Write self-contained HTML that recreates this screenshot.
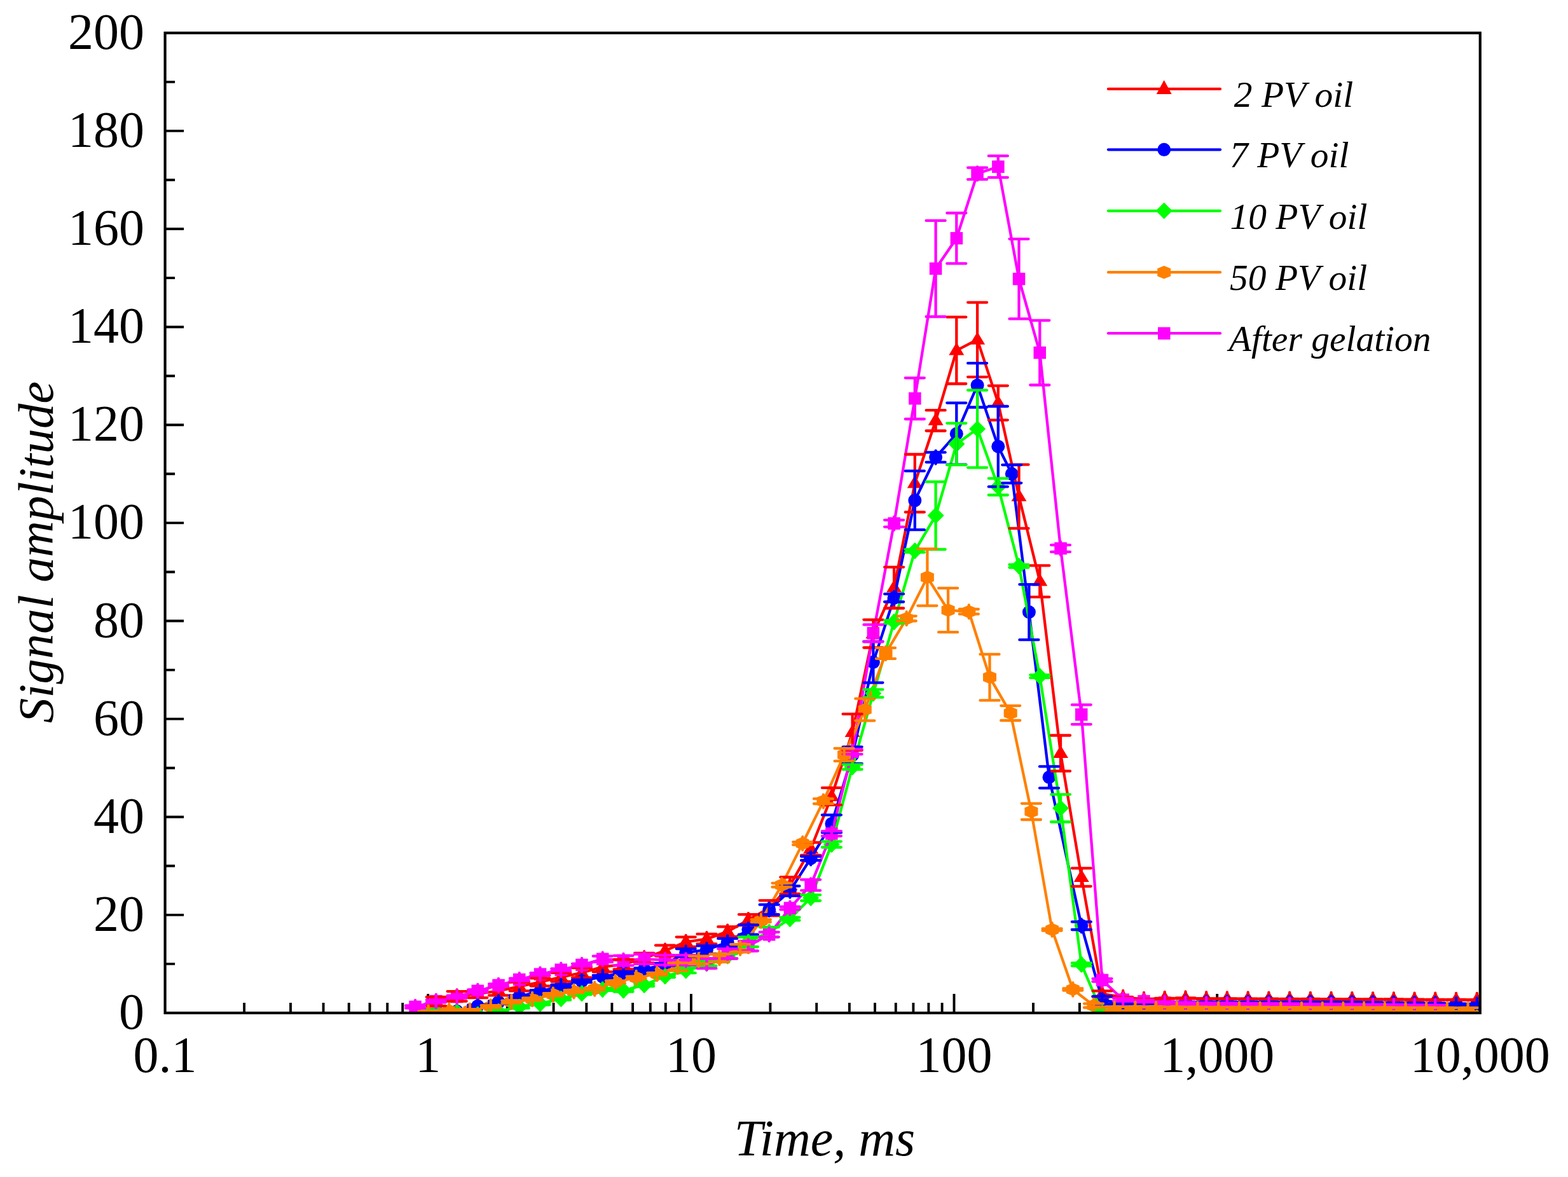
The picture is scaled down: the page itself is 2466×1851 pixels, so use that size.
<!DOCTYPE html>
<html><head><meta charset="utf-8"><title>Signal amplitude vs Time</title>
<style>
html,body{margin:0;padding:0;background:#fff;}
svg{display:block;}
.num{font-family:"Liberation Serif","Times New Roman",serif;font-size:80px;fill:#000;}
.ttl{font-family:"Liberation Serif","Times New Roman",serif;font-style:italic;font-size:80px;fill:#000;}
.leg{font-family:"Liberation Serif","Times New Roman",serif;font-style:italic;font-size:57.5px;fill:#000;}
</style></head>
<body>
<svg width="2466" height="1851" viewBox="0 0 2466 1851">
<rect width="2466" height="1851" fill="#fff"/>
<defs><clipPath id="pa"><rect x="259.6" y="51.8" width="2068.2" height="1541.2"/></clipPath></defs>
<path d="M259.6,1515.9h15.5 M259.6,1438.9h29.5 M259.6,1361.8h15.5 M259.6,1284.8h29.5 M259.6,1207.7h15.5 M259.6,1130.6h29.5 M259.6,1053.6h15.5 M259.6,976.5h29.5 M259.6,899.5h15.5 M259.6,822.4h29.5 M259.6,745.3h15.5 M259.6,668.3h29.5 M259.6,591.2h15.5 M259.6,514.2h29.5 M259.6,437.1h15.5 M259.6,360h29.5 M259.6,283h15.5 M259.6,205.9h29.5 M259.6,128.9h15.5 M384.1,1593v-16 M457,1593v-16 M508.6,1593v-16 M548.7,1593v-16 M581.5,1593v-16 M609.2,1593v-16 M633.2,1593v-16 M654.3,1593v-16 M673.2,1593v-30 M797.8,1593v-16 M870.6,1593v-16 M922.3,1593v-16 M962.4,1593v-16 M995.1,1593v-16 M1022.8,1593v-16 M1046.8,1593v-16 M1068,1593v-16 M1086.9,1593v-30 M1211.4,1593v-16 M1284.2,1593v-16 M1335.9,1593v-16 M1376,1593v-16 M1408.8,1593v-16 M1436.4,1593v-16 M1460.4,1593v-16 M1481.6,1593v-16 M1500.5,1593v-30 M1625,1593v-16 M1697.9,1593v-16 M1749.6,1593v-16 M1789.6,1593v-16 M1822.4,1593v-16 M1850.1,1593v-16 M1874.1,1593v-16 M1895.2,1593v-16 M1914.2,1593v-30 M2038.7,1593v-16 M2111.5,1593v-16 M2163.2,1593v-16 M2203.3,1593v-16 M2236,1593v-16 M2263.7,1593v-16 M2287.7,1593v-16 M2308.9,1593v-16" stroke="#000" stroke-width="3.9" fill="none"/>
<g clip-path="url(#pa)">
<path d="M685.8,1574.9 L718.6,1566.8 L751.3,1562.9 L784,1558.3 L816.8,1551.4 L849.5,1544.5 L882.3,1536.7 L915,1529.8 L947.7,1520.6 L980.5,1516.7 L1013.2,1506.7 L1046,1495.1 L1078.7,1481.3 L1111.4,1476.6 L1144.2,1465.1 L1176.9,1446.6 L1209.7,1428.1 L1242.4,1392.6 L1275.1,1334.8 L1307.9,1252.4 L1340.6,1151.4 L1373.4,996.6 L1406.1,924.1 L1438.8,760 L1471.6,661.3 L1504.3,551.1 L1537.1,534.2 L1569.8,633.6 L1602.5,780.8 L1635.3,914.1 L1668,1184.6 L1700.8,1379.5 L1733.5,1562.9 L1766.2,1568.3 L1799,1571.4 L1831.7,1570.3 L1864.5,1569.9 L1897.2,1570.7 L1929.9,1570.8 L1962.7,1570.9 L1995.4,1571.1 L2028.2,1571.2 L2060.9,1571.4 L2093.6,1571.5 L2126.4,1571.6 L2159.1,1571.8 L2191.9,1571.9 L2224.6,1572.1 L2257.3,1572.2 L2290.1,1572.4 L2322.8,1572.5" fill="none" stroke="#ff0000" stroke-width="4.3" stroke-linejoin="round"/>
<polygon points="685.8,1562.4 697.8,1582.4 673.8,1582.4" fill="#ff0000"/>
<polygon points="718.6,1554.3 730.6,1574.3 706.6,1574.3" fill="#ff0000"/>
<polygon points="751.3,1550.4 763.3,1570.4 739.3,1570.4" fill="#ff0000"/>
<polygon points="784,1545.8 796,1565.8 772,1565.8" fill="#ff0000"/>
<polygon points="816.8,1538.9 828.8,1558.9 804.8,1558.9" fill="#ff0000"/>
<polygon points="849.5,1532 861.5,1552 837.5,1552" fill="#ff0000"/>
<polygon points="882.3,1524.2 894.3,1544.2 870.3,1544.2" fill="#ff0000"/>
<polygon points="915,1517.3 927,1537.3 903,1537.3" fill="#ff0000"/>
<polygon points="947.7,1508.1 959.7,1528.1 935.7,1528.1" fill="#ff0000"/>
<polygon points="980.5,1504.2 992.5,1524.2 968.5,1524.2" fill="#ff0000"/>
<polygon points="1013.2,1494.2 1025.2,1514.2 1001.2,1514.2" fill="#ff0000"/>
<polygon points="1046,1482.6 1058,1502.6 1034,1502.6" fill="#ff0000"/>
<polygon points="1078.7,1468.8 1090.7,1488.8 1066.7,1488.8" fill="#ff0000"/>
<polygon points="1111.4,1464.1 1123.4,1484.1 1099.4,1484.1" fill="#ff0000"/>
<polygon points="1144.2,1452.6 1156.2,1472.6 1132.2,1472.6" fill="#ff0000"/>
<polygon points="1176.9,1434.1 1188.9,1454.1 1164.9,1454.1" fill="#ff0000"/>
<polygon points="1209.7,1415.6 1221.7,1435.6 1197.7,1435.6" fill="#ff0000"/>
<polygon points="1242.4,1380.1 1254.4,1400.1 1230.4,1400.1" fill="#ff0000"/>
<polygon points="1275.1,1322.3 1287.1,1342.3 1263.1,1342.3" fill="#ff0000"/>
<polygon points="1307.9,1239.9 1319.9,1259.9 1295.9,1259.9" fill="#ff0000"/>
<polygon points="1340.6,1138.9 1352.6,1158.9 1328.6,1158.9" fill="#ff0000"/>
<polygon points="1373.4,984.1 1385.4,1004.1 1361.4,1004.1" fill="#ff0000"/>
<polygon points="1406.1,911.6 1418.1,931.6 1394.1,931.6" fill="#ff0000"/>
<polygon points="1438.8,747.5 1450.8,767.5 1426.8,767.5" fill="#ff0000"/>
<polygon points="1471.6,648.8 1483.6,668.8 1459.6,668.8" fill="#ff0000"/>
<polygon points="1504.3,538.6 1516.3,558.6 1492.3,558.6" fill="#ff0000"/>
<polygon points="1537.1,521.7 1549.1,541.7 1525.1,541.7" fill="#ff0000"/>
<polygon points="1569.8,621.1 1581.8,641.1 1557.8,641.1" fill="#ff0000"/>
<polygon points="1602.5,768.3 1614.5,788.3 1590.5,788.3" fill="#ff0000"/>
<polygon points="1635.3,901.6 1647.3,921.6 1623.3,921.6" fill="#ff0000"/>
<polygon points="1668,1172.1 1680,1192.1 1656,1192.1" fill="#ff0000"/>
<polygon points="1700.8,1367 1712.8,1387 1688.8,1387" fill="#ff0000"/>
<polygon points="1733.5,1550.4 1745.5,1570.4 1721.5,1570.4" fill="#ff0000"/>
<polygon points="1766.2,1555.8 1778.2,1575.8 1754.2,1575.8" fill="#ff0000"/>
<polygon points="1799,1558.9 1811,1578.9 1787,1578.9" fill="#ff0000"/>
<polygon points="1831.7,1557.8 1843.7,1577.8 1819.7,1577.8" fill="#ff0000"/>
<polygon points="1864.5,1557.4 1876.5,1577.4 1852.5,1577.4" fill="#ff0000"/>
<polygon points="1897.2,1558.2 1909.2,1578.2 1885.2,1578.2" fill="#ff0000"/>
<polygon points="1929.9,1558.3 1941.9,1578.3 1917.9,1578.3" fill="#ff0000"/>
<polygon points="1962.7,1558.4 1974.7,1578.4 1950.7,1578.4" fill="#ff0000"/>
<polygon points="1995.4,1558.6 2007.4,1578.6 1983.4,1578.6" fill="#ff0000"/>
<polygon points="2028.2,1558.7 2040.2,1578.7 2016.2,1578.7" fill="#ff0000"/>
<polygon points="2060.9,1558.9 2072.9,1578.9 2048.9,1578.9" fill="#ff0000"/>
<polygon points="2093.6,1559 2105.6,1579 2081.6,1579" fill="#ff0000"/>
<polygon points="2126.4,1559.1 2138.4,1579.1 2114.4,1579.1" fill="#ff0000"/>
<polygon points="2159.1,1559.3 2171.1,1579.3 2147.1,1579.3" fill="#ff0000"/>
<polygon points="2191.9,1559.4 2203.9,1579.4 2179.9,1579.4" fill="#ff0000"/>
<polygon points="2224.6,1559.6 2236.6,1579.6 2212.6,1579.6" fill="#ff0000"/>
<polygon points="2257.3,1559.7 2269.3,1579.7 2245.3,1579.7" fill="#ff0000"/>
<polygon points="2290.1,1559.9 2302.1,1579.9 2278.1,1579.9" fill="#ff0000"/>
<polygon points="2322.8,1560 2334.8,1580 2310.8,1580" fill="#ff0000"/>
<path d="M685.8,1589.9 L718.6,1590.3 L751.3,1582.2 L784,1576 L816.8,1567.2 L849.5,1559.1 L882.3,1550.6 L915,1542.9 L947.7,1536 L980.5,1529.8 L1013.2,1524.4 L1046,1516.7 L1078.7,1498.2 L1111.4,1493.6 L1144.2,1482 L1176.9,1462 L1209.7,1430.4 L1242.4,1401.1 L1275.1,1349.9 L1307.9,1295.5 L1340.6,1187.7 L1373.4,1041.3 L1406.1,940.3 L1438.8,787 L1471.6,719.1 L1504.3,682.2 L1537.1,605.9 L1569.8,702.2 L1591.3,745.3 L1618.4,962.6 L1650,1222.3 L1700.8,1455.8 L1733.5,1573 L1766.2,1577.6 L1799,1577.2 L1831.7,1576.8 L1864.5,1576.8 L1897.2,1576.8 L1929.9,1576.8 L1962.7,1576.8 L1995.4,1576.8 L2028.2,1576.8 L2060.9,1576.8 L2093.6,1576.8 L2126.4,1577.2 L2159.1,1577.6 L2191.9,1578 L2224.6,1578.4 L2257.3,1578.7 L2290.1,1579.5 L2322.8,1579.9" fill="none" stroke="#0000ff" stroke-width="4.3" stroke-linejoin="round"/>
<circle cx="685.8" cy="1589.9" r="10.5" fill="#0000ff"/>
<circle cx="718.6" cy="1590.3" r="10.5" fill="#0000ff"/>
<circle cx="751.3" cy="1582.2" r="10.5" fill="#0000ff"/>
<circle cx="784" cy="1576" r="10.5" fill="#0000ff"/>
<circle cx="816.8" cy="1567.2" r="10.5" fill="#0000ff"/>
<circle cx="849.5" cy="1559.1" r="10.5" fill="#0000ff"/>
<circle cx="882.3" cy="1550.6" r="10.5" fill="#0000ff"/>
<circle cx="915" cy="1542.9" r="10.5" fill="#0000ff"/>
<circle cx="947.7" cy="1536" r="10.5" fill="#0000ff"/>
<circle cx="980.5" cy="1529.8" r="10.5" fill="#0000ff"/>
<circle cx="1013.2" cy="1524.4" r="10.5" fill="#0000ff"/>
<circle cx="1046" cy="1516.7" r="10.5" fill="#0000ff"/>
<circle cx="1078.7" cy="1498.2" r="10.5" fill="#0000ff"/>
<circle cx="1111.4" cy="1493.6" r="10.5" fill="#0000ff"/>
<circle cx="1144.2" cy="1482" r="10.5" fill="#0000ff"/>
<circle cx="1176.9" cy="1462" r="10.5" fill="#0000ff"/>
<circle cx="1209.7" cy="1430.4" r="10.5" fill="#0000ff"/>
<circle cx="1242.4" cy="1401.1" r="10.5" fill="#0000ff"/>
<circle cx="1275.1" cy="1349.9" r="10.5" fill="#0000ff"/>
<circle cx="1307.9" cy="1295.5" r="10.5" fill="#0000ff"/>
<circle cx="1340.6" cy="1187.7" r="10.5" fill="#0000ff"/>
<circle cx="1373.4" cy="1041.3" r="10.5" fill="#0000ff"/>
<circle cx="1406.1" cy="940.3" r="10.5" fill="#0000ff"/>
<circle cx="1438.8" cy="787" r="10.5" fill="#0000ff"/>
<circle cx="1471.6" cy="719.1" r="10.5" fill="#0000ff"/>
<circle cx="1504.3" cy="682.2" r="10.5" fill="#0000ff"/>
<circle cx="1537.1" cy="605.9" r="10.5" fill="#0000ff"/>
<circle cx="1569.8" cy="702.2" r="10.5" fill="#0000ff"/>
<circle cx="1591.3" cy="745.3" r="10.5" fill="#0000ff"/>
<circle cx="1618.4" cy="962.6" r="10.5" fill="#0000ff"/>
<circle cx="1650" cy="1222.3" r="10.5" fill="#0000ff"/>
<circle cx="1700.8" cy="1455.8" r="10.5" fill="#0000ff"/>
<circle cx="1733.5" cy="1573" r="10.5" fill="#0000ff"/>
<circle cx="1766.2" cy="1577.6" r="10.5" fill="#0000ff"/>
<circle cx="1799" cy="1577.2" r="10.5" fill="#0000ff"/>
<circle cx="1831.7" cy="1576.8" r="10.5" fill="#0000ff"/>
<circle cx="1864.5" cy="1576.8" r="10.5" fill="#0000ff"/>
<circle cx="1897.2" cy="1576.8" r="10.5" fill="#0000ff"/>
<circle cx="1929.9" cy="1576.8" r="10.5" fill="#0000ff"/>
<circle cx="1962.7" cy="1576.8" r="10.5" fill="#0000ff"/>
<circle cx="1995.4" cy="1576.8" r="10.5" fill="#0000ff"/>
<circle cx="2028.2" cy="1576.8" r="10.5" fill="#0000ff"/>
<circle cx="2060.9" cy="1576.8" r="10.5" fill="#0000ff"/>
<circle cx="2093.6" cy="1576.8" r="10.5" fill="#0000ff"/>
<circle cx="2126.4" cy="1577.2" r="10.5" fill="#0000ff"/>
<circle cx="2159.1" cy="1577.6" r="10.5" fill="#0000ff"/>
<circle cx="2191.9" cy="1578" r="10.5" fill="#0000ff"/>
<circle cx="2224.6" cy="1578.4" r="10.5" fill="#0000ff"/>
<circle cx="2257.3" cy="1578.7" r="10.5" fill="#0000ff"/>
<circle cx="2290.1" cy="1579.5" r="10.5" fill="#0000ff"/>
<circle cx="2322.8" cy="1579.9" r="10.5" fill="#0000ff"/>
<path d="M685.8,1589.9 L718.6,1591.5 L751.3,1595.3 L784,1590.7 L816.8,1583.4 L849.5,1578.4 L882.3,1570.7 L915,1562.2 L947.7,1556 L980.5,1557.6 L1013.2,1549.1 L1046,1535.2 L1078.7,1526.3 L1111.4,1515.2 L1144.2,1503.6 L1176.9,1481.3 L1209.7,1465.9 L1242.4,1445 L1275.1,1411.9 L1307.9,1327.9 L1340.6,1206.2 L1373.4,1090.6 L1406.1,978.1 L1438.8,866.3 L1471.6,810.8 L1504.3,698.3 L1537.1,674.4 L1569.8,765.4 L1602.5,890.2 L1635.3,1063.6 L1668,1270.9 L1700.8,1516.7 L1733.5,1593 L1766.2,1600.7 L1799,1600.7 L1831.7,1600.7 L1864.5,1600.7 L1897.2,1600.7 L1929.9,1600.7 L1962.7,1600.7 L1995.4,1600.7 L2028.2,1600.7 L2060.9,1600.7 L2093.6,1600.7 L2126.4,1600.7 L2159.1,1600.7 L2191.9,1600.7 L2224.6,1600.7 L2257.3,1600.7 L2290.1,1600.7 L2322.8,1600.7" fill="none" stroke="#00ff00" stroke-width="4.3" stroke-linejoin="round"/>
<polygon points="685.8,1576.9 698.8,1589.9 685.8,1602.9 672.8,1589.9" fill="#00ff00"/>
<polygon points="718.6,1578.5 731.6,1591.5 718.6,1604.5 705.6,1591.5" fill="#00ff00"/>
<polygon points="751.3,1582.3 764.3,1595.3 751.3,1608.3 738.3,1595.3" fill="#00ff00"/>
<polygon points="784,1577.7 797,1590.7 784,1603.7 771,1590.7" fill="#00ff00"/>
<polygon points="816.8,1570.4 829.8,1583.4 816.8,1596.4 803.8,1583.4" fill="#00ff00"/>
<polygon points="849.5,1565.4 862.5,1578.4 849.5,1591.4 836.5,1578.4" fill="#00ff00"/>
<polygon points="882.3,1557.7 895.3,1570.7 882.3,1583.7 869.3,1570.7" fill="#00ff00"/>
<polygon points="915,1549.2 928,1562.2 915,1575.2 902,1562.2" fill="#00ff00"/>
<polygon points="947.7,1543 960.7,1556 947.7,1569 934.7,1556" fill="#00ff00"/>
<polygon points="980.5,1544.6 993.5,1557.6 980.5,1570.6 967.5,1557.6" fill="#00ff00"/>
<polygon points="1013.2,1536.1 1026.2,1549.1 1013.2,1562.1 1000.2,1549.1" fill="#00ff00"/>
<polygon points="1046,1522.2 1059,1535.2 1046,1548.2 1033,1535.2" fill="#00ff00"/>
<polygon points="1078.7,1513.3 1091.7,1526.3 1078.7,1539.3 1065.7,1526.3" fill="#00ff00"/>
<polygon points="1111.4,1502.2 1124.4,1515.2 1111.4,1528.2 1098.4,1515.2" fill="#00ff00"/>
<polygon points="1144.2,1490.6 1157.2,1503.6 1144.2,1516.6 1131.2,1503.6" fill="#00ff00"/>
<polygon points="1176.9,1468.3 1189.9,1481.3 1176.9,1494.3 1163.9,1481.3" fill="#00ff00"/>
<polygon points="1209.7,1452.9 1222.7,1465.9 1209.7,1478.9 1196.7,1465.9" fill="#00ff00"/>
<polygon points="1242.4,1432 1255.4,1445 1242.4,1458 1229.4,1445" fill="#00ff00"/>
<polygon points="1275.1,1398.9 1288.1,1411.9 1275.1,1424.9 1262.1,1411.9" fill="#00ff00"/>
<polygon points="1307.9,1314.9 1320.9,1327.9 1307.9,1340.9 1294.9,1327.9" fill="#00ff00"/>
<polygon points="1340.6,1193.2 1353.6,1206.2 1340.6,1219.2 1327.6,1206.2" fill="#00ff00"/>
<polygon points="1373.4,1077.6 1386.4,1090.6 1373.4,1103.6 1360.4,1090.6" fill="#00ff00"/>
<polygon points="1406.1,965.1 1419.1,978.1 1406.1,991.1 1393.1,978.1" fill="#00ff00"/>
<polygon points="1438.8,853.3 1451.8,866.3 1438.8,879.3 1425.8,866.3" fill="#00ff00"/>
<polygon points="1471.6,797.8 1484.6,810.8 1471.6,823.8 1458.6,810.8" fill="#00ff00"/>
<polygon points="1504.3,685.3 1517.3,698.3 1504.3,711.3 1491.3,698.3" fill="#00ff00"/>
<polygon points="1537.1,661.4 1550.1,674.4 1537.1,687.4 1524.1,674.4" fill="#00ff00"/>
<polygon points="1569.8,752.4 1582.8,765.4 1569.8,778.4 1556.8,765.4" fill="#00ff00"/>
<polygon points="1602.5,877.2 1615.5,890.2 1602.5,903.2 1589.5,890.2" fill="#00ff00"/>
<polygon points="1635.3,1050.6 1648.3,1063.6 1635.3,1076.6 1622.3,1063.6" fill="#00ff00"/>
<polygon points="1668,1257.9 1681,1270.9 1668,1283.9 1655,1270.9" fill="#00ff00"/>
<polygon points="1700.8,1503.7 1713.8,1516.7 1700.8,1529.7 1687.8,1516.7" fill="#00ff00"/>
<polygon points="1733.5,1580 1746.5,1593 1733.5,1606 1720.5,1593" fill="#00ff00"/>
<polygon points="1766.2,1587.7 1779.2,1600.7 1766.2,1613.7 1753.2,1600.7" fill="#00ff00"/>
<polygon points="1799,1587.7 1812,1600.7 1799,1613.7 1786,1600.7" fill="#00ff00"/>
<polygon points="1831.7,1587.7 1844.7,1600.7 1831.7,1613.7 1818.7,1600.7" fill="#00ff00"/>
<polygon points="1864.5,1587.7 1877.5,1600.7 1864.5,1613.7 1851.5,1600.7" fill="#00ff00"/>
<polygon points="1897.2,1587.7 1910.2,1600.7 1897.2,1613.7 1884.2,1600.7" fill="#00ff00"/>
<polygon points="1929.9,1587.7 1942.9,1600.7 1929.9,1613.7 1916.9,1600.7" fill="#00ff00"/>
<polygon points="1962.7,1587.7 1975.7,1600.7 1962.7,1613.7 1949.7,1600.7" fill="#00ff00"/>
<polygon points="1995.4,1587.7 2008.4,1600.7 1995.4,1613.7 1982.4,1600.7" fill="#00ff00"/>
<polygon points="2028.2,1587.7 2041.2,1600.7 2028.2,1613.7 2015.2,1600.7" fill="#00ff00"/>
<polygon points="2060.9,1587.7 2073.9,1600.7 2060.9,1613.7 2047.9,1600.7" fill="#00ff00"/>
<polygon points="2093.6,1587.7 2106.6,1600.7 2093.6,1613.7 2080.6,1600.7" fill="#00ff00"/>
<polygon points="2126.4,1587.7 2139.4,1600.7 2126.4,1613.7 2113.4,1600.7" fill="#00ff00"/>
<polygon points="2159.1,1587.7 2172.1,1600.7 2159.1,1613.7 2146.1,1600.7" fill="#00ff00"/>
<polygon points="2191.9,1587.7 2204.9,1600.7 2191.9,1613.7 2178.9,1600.7" fill="#00ff00"/>
<polygon points="2224.6,1587.7 2237.6,1600.7 2224.6,1613.7 2211.6,1600.7" fill="#00ff00"/>
<polygon points="2257.3,1587.7 2270.3,1600.7 2257.3,1613.7 2244.3,1600.7" fill="#00ff00"/>
<polygon points="2290.1,1587.7 2303.1,1600.7 2290.1,1613.7 2277.1,1600.7" fill="#00ff00"/>
<polygon points="2322.8,1587.7 2335.8,1600.7 2322.8,1613.7 2309.8,1600.7" fill="#00ff00"/>
<path d="M653.1,1583.4 L685.8,1574.5 L718.6,1567.6 L751.3,1558.3 L784,1549.5 L816.8,1540.6 L849.5,1532.1 L882.3,1525.2 L915,1517.5 L947.7,1508.2 L980.5,1510.5 L1013.2,1508.2 L1046,1509.8 L1078.7,1509.8 L1111.4,1515.2 L1144.2,1499.8 L1176.9,1487.8 L1209.7,1469.7 L1242.4,1428.1 L1275.1,1391.9 L1307.9,1311 L1340.6,1182.3 L1373.4,995.8 L1406.1,823.2 L1438.8,626.7 L1471.6,422.5 L1504.3,374.7 L1537.1,273 L1569.8,262.2 L1602.5,438.6 L1635.3,554.6 L1668,862.5 L1700.8,1123.7 L1733.5,1541.4 L1766.2,1572.2 L1799,1574.5 L1831.7,1576.8 L1864.5,1578 L1897.2,1578.7 L1929.9,1579.1 L1962.7,1579.4 L1995.4,1579.7 L2028.2,1580 L2060.9,1580.3 L2093.6,1580.6 L2126.4,1581 L2159.1,1581.3 L2191.9,1581.6 L2224.6,1581.9 L2257.3,1582.2" fill="none" stroke="#ff00ff" stroke-width="4.3" stroke-linejoin="round"/>
<rect x="643.3" y="1573.6" width="19.5" height="19.5" fill="#ff00ff"/>
<rect x="676.1" y="1564.8" width="19.5" height="19.5" fill="#ff00ff"/>
<rect x="708.8" y="1557.8" width="19.5" height="19.5" fill="#ff00ff"/>
<rect x="741.5" y="1548.6" width="19.5" height="19.5" fill="#ff00ff"/>
<rect x="774.3" y="1539.7" width="19.5" height="19.5" fill="#ff00ff"/>
<rect x="807" y="1530.8" width="19.5" height="19.5" fill="#ff00ff"/>
<rect x="839.8" y="1522.4" width="19.5" height="19.5" fill="#ff00ff"/>
<rect x="872.5" y="1515.4" width="19.5" height="19.5" fill="#ff00ff"/>
<rect x="905.2" y="1507.7" width="19.5" height="19.5" fill="#ff00ff"/>
<rect x="938" y="1498.5" width="19.5" height="19.5" fill="#ff00ff"/>
<rect x="970.7" y="1500.8" width="19.5" height="19.5" fill="#ff00ff"/>
<rect x="1003.5" y="1498.5" width="19.5" height="19.5" fill="#ff00ff"/>
<rect x="1036.2" y="1500" width="19.5" height="19.5" fill="#ff00ff"/>
<rect x="1069" y="1500" width="19.5" height="19.5" fill="#ff00ff"/>
<rect x="1101.7" y="1505.4" width="19.5" height="19.5" fill="#ff00ff"/>
<rect x="1134.4" y="1490" width="19.5" height="19.5" fill="#ff00ff"/>
<rect x="1167.2" y="1478.1" width="19.5" height="19.5" fill="#ff00ff"/>
<rect x="1199.9" y="1460" width="19.5" height="19.5" fill="#ff00ff"/>
<rect x="1232.7" y="1418.3" width="19.5" height="19.5" fill="#ff00ff"/>
<rect x="1265.4" y="1382.1" width="19.5" height="19.5" fill="#ff00ff"/>
<rect x="1298.1" y="1301.2" width="19.5" height="19.5" fill="#ff00ff"/>
<rect x="1330.9" y="1172.5" width="19.5" height="19.5" fill="#ff00ff"/>
<rect x="1363.6" y="986" width="19.5" height="19.5" fill="#ff00ff"/>
<rect x="1396.4" y="813.4" width="19.5" height="19.5" fill="#ff00ff"/>
<rect x="1429.1" y="616.9" width="19.5" height="19.5" fill="#ff00ff"/>
<rect x="1461.8" y="412.7" width="19.5" height="19.5" fill="#ff00ff"/>
<rect x="1494.6" y="364.9" width="19.5" height="19.5" fill="#ff00ff"/>
<rect x="1527.3" y="263.2" width="19.5" height="19.5" fill="#ff00ff"/>
<rect x="1560.1" y="252.4" width="19.5" height="19.5" fill="#ff00ff"/>
<rect x="1592.8" y="428.9" width="19.5" height="19.5" fill="#ff00ff"/>
<rect x="1625.5" y="544.9" width="19.5" height="19.5" fill="#ff00ff"/>
<rect x="1658.3" y="852.7" width="19.5" height="19.5" fill="#ff00ff"/>
<rect x="1691" y="1114" width="19.5" height="19.5" fill="#ff00ff"/>
<rect x="1723.8" y="1531.6" width="19.5" height="19.5" fill="#ff00ff"/>
<rect x="1756.5" y="1562.4" width="19.5" height="19.5" fill="#ff00ff"/>
<rect x="1789.2" y="1564.8" width="19.5" height="19.5" fill="#ff00ff"/>
<rect x="1822" y="1567.1" width="19.5" height="19.5" fill="#ff00ff"/>
<rect x="1854.7" y="1568.2" width="19.5" height="19.5" fill="#ff00ff"/>
<rect x="1887.5" y="1569" width="19.5" height="19.5" fill="#ff00ff"/>
<rect x="1920.2" y="1569.3" width="19.5" height="19.5" fill="#ff00ff"/>
<rect x="1952.9" y="1569.6" width="19.5" height="19.5" fill="#ff00ff"/>
<rect x="1985.7" y="1569.9" width="19.5" height="19.5" fill="#ff00ff"/>
<rect x="2018.4" y="1570.3" width="19.5" height="19.5" fill="#ff00ff"/>
<rect x="2051.2" y="1570.6" width="19.5" height="19.5" fill="#ff00ff"/>
<rect x="2083.9" y="1570.9" width="19.5" height="19.5" fill="#ff00ff"/>
<rect x="2116.6" y="1571.2" width="19.5" height="19.5" fill="#ff00ff"/>
<rect x="2149.4" y="1571.5" width="19.5" height="19.5" fill="#ff00ff"/>
<rect x="2182.1" y="1571.8" width="19.5" height="19.5" fill="#ff00ff"/>
<rect x="2214.8" y="1572.1" width="19.5" height="19.5" fill="#ff00ff"/>
<rect x="2247.6" y="1572.5" width="19.5" height="19.5" fill="#ff00ff"/>
<path d="M673.6,1592.2 L706.3,1589.5 L739,1589.1 L771.7,1583 L804.4,1575.7 L837.1,1571.4 L869.8,1564.1 L902.5,1559.1 L935.2,1555.2 L967.9,1544.5 L1000.6,1537.5 L1033.3,1531.7 L1066,1520.6 L1098.7,1509.8 L1131.4,1506.7 L1164.1,1491.3 L1196.8,1448.1 L1229.5,1391.9 L1262.2,1326.4 L1294.9,1260.1 L1327.6,1186.9 L1360.3,1116 L1393,1027.4 L1425.7,972.7 L1458.4,907.9 L1491.1,959.6 L1523.8,961.9 L1556.5,1065.1 L1589.2,1121.4 L1621.9,1276.3 L1654.6,1462 L1687.3,1556 L1720,1581.4 L1752.7,1586.4 L1785.4,1586.5 L1818.1,1586.6 L1850.8,1586.7 L1883.5,1586.8 L1916.2,1586.9 L1948.9,1587 L1981.6,1587.1 L2014.3,1587.2 L2047,1587.3 L2079.7,1587.4 L2112.4,1587.4 L2145.1,1587.5 L2177.8,1587.6 L2210.5,1587.7 L2243.2,1587.8 L2275.9,1587.9 L2308.6,1588" fill="none" stroke="#ff8000" stroke-width="4.3" stroke-linejoin="round"/>
<polygon points="673.6,1581.9 684.1,1586.2 684.1,1598.2 673.6,1602.5 663.1,1598.2 663.1,1586.2" fill="#ff8000"/>
<polygon points="706.3,1579.2 716.8,1583.5 716.8,1595.5 706.3,1599.8 695.8,1595.5 695.8,1583.5" fill="#ff8000"/>
<polygon points="739,1578.8 749.5,1583.1 749.5,1595.1 739,1599.4 728.5,1595.1 728.5,1583.1" fill="#ff8000"/>
<polygon points="771.7,1572.7 782.2,1577 782.2,1589 771.7,1593.3 761.2,1589 761.2,1577" fill="#ff8000"/>
<polygon points="804.4,1565.4 814.9,1569.7 814.9,1581.7 804.4,1586 793.9,1581.7 793.9,1569.7" fill="#ff8000"/>
<polygon points="837.1,1561.1 847.6,1565.4 847.6,1577.4 837.1,1581.7 826.6,1577.4 826.6,1565.4" fill="#ff8000"/>
<polygon points="869.8,1553.8 880.3,1558.1 880.3,1570.1 869.8,1574.4 859.3,1570.1 859.3,1558.1" fill="#ff8000"/>
<polygon points="902.5,1548.8 913,1553.1 913,1565.1 902.5,1569.4 892,1565.1 892,1553.1" fill="#ff8000"/>
<polygon points="935.2,1544.9 945.7,1549.2 945.7,1561.2 935.2,1565.5 924.7,1561.2 924.7,1549.2" fill="#ff8000"/>
<polygon points="967.9,1534.2 978.4,1538.5 978.4,1550.5 967.9,1554.8 957.4,1550.5 957.4,1538.5" fill="#ff8000"/>
<polygon points="1000.6,1527.2 1011.1,1531.5 1011.1,1543.5 1000.6,1547.8 990.1,1543.5 990.1,1531.5" fill="#ff8000"/>
<polygon points="1033.3,1521.4 1043.8,1525.7 1043.8,1537.7 1033.3,1542 1022.8,1537.7 1022.8,1525.7" fill="#ff8000"/>
<polygon points="1066,1510.3 1076.5,1514.6 1076.5,1526.6 1066,1530.9 1055.5,1526.6 1055.5,1514.6" fill="#ff8000"/>
<polygon points="1098.7,1499.5 1109.2,1503.8 1109.2,1515.8 1098.7,1520.1 1088.2,1515.8 1088.2,1503.8" fill="#ff8000"/>
<polygon points="1131.4,1496.4 1141.9,1500.7 1141.9,1512.7 1131.4,1517 1120.9,1512.7 1120.9,1500.7" fill="#ff8000"/>
<polygon points="1164.1,1481 1174.6,1485.3 1174.6,1497.3 1164.1,1501.6 1153.6,1497.3 1153.6,1485.3" fill="#ff8000"/>
<polygon points="1196.8,1437.8 1207.3,1442.1 1207.3,1454.1 1196.8,1458.4 1186.3,1454.1 1186.3,1442.1" fill="#ff8000"/>
<polygon points="1229.5,1381.6 1240,1385.9 1240,1397.9 1229.5,1402.2 1219,1397.9 1219,1385.9" fill="#ff8000"/>
<polygon points="1262.2,1316.1 1272.7,1320.4 1272.7,1332.4 1262.2,1336.7 1251.7,1332.4 1251.7,1320.4" fill="#ff8000"/>
<polygon points="1294.9,1249.8 1305.4,1254.1 1305.4,1266.1 1294.9,1270.4 1284.4,1266.1 1284.4,1254.1" fill="#ff8000"/>
<polygon points="1327.6,1176.6 1338.1,1180.9 1338.1,1192.9 1327.6,1197.2 1317.1,1192.9 1317.1,1180.9" fill="#ff8000"/>
<polygon points="1360.3,1105.7 1370.8,1110 1370.8,1122 1360.3,1126.3 1349.8,1122 1349.8,1110" fill="#ff8000"/>
<polygon points="1393,1017.1 1403.5,1021.4 1403.5,1033.4 1393,1037.7 1382.5,1033.4 1382.5,1021.4" fill="#ff8000"/>
<polygon points="1425.7,962.4 1436.2,966.7 1436.2,978.7 1425.7,983 1415.2,978.7 1415.2,966.7" fill="#ff8000"/>
<polygon points="1458.4,897.6 1468.9,901.9 1468.9,913.9 1458.4,918.2 1447.9,913.9 1447.9,901.9" fill="#ff8000"/>
<polygon points="1491.1,949.3 1501.6,953.6 1501.6,965.6 1491.1,969.9 1480.6,965.6 1480.6,953.6" fill="#ff8000"/>
<polygon points="1523.8,951.6 1534.3,955.9 1534.3,967.9 1523.8,972.2 1513.3,967.9 1513.3,955.9" fill="#ff8000"/>
<polygon points="1556.5,1054.8 1567,1059.1 1567,1071.1 1556.5,1075.4 1546,1071.1 1546,1059.1" fill="#ff8000"/>
<polygon points="1589.2,1111.1 1599.7,1115.4 1599.7,1127.4 1589.2,1131.7 1578.7,1127.4 1578.7,1115.4" fill="#ff8000"/>
<polygon points="1621.9,1266 1632.4,1270.3 1632.4,1282.3 1621.9,1286.6 1611.4,1282.3 1611.4,1270.3" fill="#ff8000"/>
<polygon points="1654.6,1451.7 1665.1,1456 1665.1,1468 1654.6,1472.3 1644.1,1468 1644.1,1456" fill="#ff8000"/>
<polygon points="1687.3,1545.7 1697.8,1550 1697.8,1562 1687.3,1566.3 1676.8,1562 1676.8,1550" fill="#ff8000"/>
<polygon points="1720,1571.1 1730.5,1575.4 1730.5,1587.4 1720,1591.7 1709.5,1587.4 1709.5,1575.4" fill="#ff8000"/>
<polygon points="1752.7,1576.1 1763.2,1580.4 1763.2,1592.4 1752.7,1596.7 1742.2,1592.4 1742.2,1580.4" fill="#ff8000"/>
<polygon points="1785.4,1576.2 1795.9,1580.5 1795.9,1592.5 1785.4,1596.8 1774.9,1592.5 1774.9,1580.5" fill="#ff8000"/>
<polygon points="1818.1,1576.3 1828.6,1580.6 1828.6,1592.6 1818.1,1596.9 1807.6,1592.6 1807.6,1580.6" fill="#ff8000"/>
<polygon points="1850.8,1576.4 1861.3,1580.7 1861.3,1592.7 1850.8,1597 1840.3,1592.7 1840.3,1580.7" fill="#ff8000"/>
<polygon points="1883.5,1576.5 1894,1580.8 1894,1592.8 1883.5,1597.1 1873,1592.8 1873,1580.8" fill="#ff8000"/>
<polygon points="1916.2,1576.6 1926.7,1580.9 1926.7,1592.9 1916.2,1597.2 1905.7,1592.9 1905.7,1580.9" fill="#ff8000"/>
<polygon points="1948.9,1576.7 1959.4,1581 1959.4,1593 1948.9,1597.3 1938.4,1593 1938.4,1581" fill="#ff8000"/>
<polygon points="1981.6,1576.8 1992.1,1581.1 1992.1,1593.1 1981.6,1597.4 1971.1,1593.1 1971.1,1581.1" fill="#ff8000"/>
<polygon points="2014.3,1576.9 2024.8,1581.2 2024.8,1593.2 2014.3,1597.5 2003.8,1593.2 2003.8,1581.2" fill="#ff8000"/>
<polygon points="2047,1577 2057.5,1581.3 2057.5,1593.3 2047,1597.6 2036.5,1593.3 2036.5,1581.3" fill="#ff8000"/>
<polygon points="2079.7,1577.1 2090.2,1581.4 2090.2,1593.4 2079.7,1597.7 2069.2,1593.4 2069.2,1581.4" fill="#ff8000"/>
<polygon points="2112.4,1577.1 2122.9,1581.4 2122.9,1593.4 2112.4,1597.7 2101.9,1593.4 2101.9,1581.4" fill="#ff8000"/>
<polygon points="2145.1,1577.2 2155.6,1581.5 2155.6,1593.5 2145.1,1597.8 2134.6,1593.5 2134.6,1581.5" fill="#ff8000"/>
<polygon points="2177.8,1577.3 2188.3,1581.6 2188.3,1593.6 2177.8,1597.9 2167.3,1593.6 2167.3,1581.6" fill="#ff8000"/>
<polygon points="2210.5,1577.4 2221,1581.7 2221,1593.7 2210.5,1598 2200,1593.7 2200,1581.7" fill="#ff8000"/>
<polygon points="2243.2,1577.5 2253.7,1581.8 2253.7,1593.8 2243.2,1598.1 2232.7,1593.8 2232.7,1581.8" fill="#ff8000"/>
<polygon points="2275.9,1577.6 2286.4,1581.9 2286.4,1593.9 2275.9,1598.2 2265.4,1593.9 2265.4,1581.9" fill="#ff8000"/>
<polygon points="2308.6,1577.7 2319.1,1582 2319.1,1594 2308.6,1598.3 2298.1,1594 2298.1,1582" fill="#ff8000"/>
<path d="M685.8,1564.4V1585.4 M685.8,1568V1581.8 M670.8,1568h30 M670.8,1581.8h30 M718.6,1556.3V1577.3 M718.6,1559.1V1574.5 M703.6,1559.1h30 M703.6,1574.5h30 M751.3,1552.4V1573.4 M751.3,1556.8V1569.1 M736.3,1556.8h30 M736.3,1569.1h30 M784,1547.8V1568.8 M784,1551.4V1565.3 M769,1551.4h30 M769,1565.3h30 M816.8,1540.9V1561.9 M816.8,1544.5V1558.3 M801.8,1544.5h30 M801.8,1558.3h30 M849.5,1534V1555 M849.5,1538.3V1550.6 M834.5,1538.3h30 M834.5,1550.6h30 M882.3,1526.2V1547.2 M882.3,1529.8V1543.7 M867.3,1529.8h30 M867.3,1543.7h30 M915,1519.3V1540.3 M915,1522.1V1537.5 M900,1522.1h30 M900,1537.5h30 M947.7,1510.1V1531.1 M947.7,1512.9V1528.3 M932.7,1512.9h30 M932.7,1528.3h30 M980.5,1506.2V1527.2 M980.5,1509V1524.4 M965.5,1509h30 M965.5,1524.4h30 M1013.2,1496.2V1517.2 M1013.2,1499V1514.4 M998.2,1499h30 M998.2,1514.4h30 M1046,1484.6V1505.6 M1046,1486.7V1503.6 M1031,1486.7h30 M1031,1503.6h30 M1078.7,1470.8V1491.8 M1078.7,1473.6V1489 M1063.7,1473.6h30 M1063.7,1489h30 M1111.4,1466.1V1487.1 M1111.4,1468.9V1484.3 M1096.4,1468.9h30 M1096.4,1484.3h30 M1144.2,1454.6V1475.6 M1144.2,1457.4V1472.8 M1129.2,1457.4h30 M1129.2,1472.8h30 M1176.9,1436.1V1457.1 M1176.9,1438.1V1455.1 M1161.9,1438.1h30 M1161.9,1455.1h30 M1209.7,1417.6V1438.6 M1209.7,1416.1V1440 M1194.7,1416.1h30 M1194.7,1440h30 M1242.4,1382.1V1403.1 M1242.4,1379.5V1405.7 M1227.4,1379.5h30 M1227.4,1405.7h30 M1275.1,1324.3V1345.3 M1275.1,1324.8V1344.9 M1260.1,1324.8h30 M1260.1,1344.9h30 M1307.9,1241.9V1262.9 M1307.9,1238.9V1265.9 M1292.9,1238.9h30 M1292.9,1265.9h30 M1340.6,1140.9V1161.9 M1340.6,1122.9V1180 M1325.6,1122.9h30 M1325.6,1180h30 M1373.4,986.1V1007.1 M1373.4,974.6V1018.5 M1358.4,974.6h30 M1358.4,1018.5h30 M1406.1,913.6V934.6 M1406.1,891.8V956.5 M1391.1,891.8h30 M1391.1,956.5h30 M1438.8,749.5V770.5 M1438.8,714.5V805.4 M1423.8,714.5h30 M1423.8,805.4h30 M1471.6,650.8V671.8 M1471.6,645.2V677.5 M1456.6,645.2h30 M1456.6,677.5h30 M1504.3,540.6V561.6 M1504.3,498.7V603.5 M1489.3,498.7h30 M1489.3,603.5h30 M1537.1,523.7V544.7 M1537.1,475.6V592.8 M1522.1,475.6h30 M1522.1,592.8h30 M1569.8,623.1V644.1 M1569.8,606.6V660.6 M1554.8,606.6h30 M1554.8,660.6h30 M1602.5,770.3V791.3 M1602.5,730.7V830.9 M1587.5,730.7h30 M1587.5,830.9h30 M1635.3,903.6V924.6 M1635.3,889.4V938.8 M1620.3,889.4h30 M1620.3,938.8h30 M1668,1174.1V1195.1 M1668,1156.5V1212.7 M1653,1156.5h30 M1653,1212.7h30 M1700.8,1369V1390 M1700.8,1365.3V1393.8 M1685.8,1365.3h30 M1685.8,1393.8h30 M1733.5,1552.4V1573.4 M1733.5,1558.3V1567.6 M1718.5,1558.3h30 M1718.5,1567.6h30 M1766.2,1557.8V1578.8 M1766.2,1568V1568.7 M1751.2,1568h30 M1751.2,1568.7h30 M1799,1560.9V1581.9 M1799,1571V1571.8 M1784,1571h30 M1784,1571.8h30 M1831.7,1559.8V1580.8 M1831.7,1569.9V1570.7 M1816.7,1569.9h30 M1816.7,1570.7h30 M1864.5,1559.4V1580.4 M1864.5,1569.5V1570.3 M1849.5,1569.5h30 M1849.5,1570.3h30 M1897.2,1560.2V1581.2 M1897.2,1570.3V1571 M1882.2,1570.3h30 M1882.2,1571h30 M1929.9,1560.3V1581.3 M1929.9,1570.4V1571.2 M1914.9,1570.4h30 M1914.9,1571.2h30 M1962.7,1560.4V1581.4 M1962.7,1570.6V1571.3 M1947.7,1570.6h30 M1947.7,1571.3h30 M1995.4,1560.6V1581.6 M1995.4,1570.7V1571.5 M1980.4,1570.7h30 M1980.4,1571.5h30 M2028.2,1560.7V1581.7 M2028.2,1570.8V1571.6 M2013.2,1570.8h30 M2013.2,1571.6h30 M2060.9,1560.9V1581.9 M2060.9,1571V1571.7 M2045.9,1571h30 M2045.9,1571.7h30 M2093.6,1561V1582 M2093.6,1571.1V1571.9 M2078.6,1571.1h30 M2078.6,1571.9h30 M2126.4,1561.1V1582.1 M2126.4,1571.3V1572 M2111.4,1571.3h30 M2111.4,1572h30 M2159.1,1561.3V1582.3 M2159.1,1571.4V1572.2 M2144.1,1571.4h30 M2144.1,1572.2h30 M2191.9,1561.4V1582.4 M2191.9,1571.5V1572.3 M2176.9,1571.5h30 M2176.9,1572.3h30 M2224.6,1561.6V1582.6 M2224.6,1571.7V1572.5 M2209.6,1571.7h30 M2209.6,1572.5h30 M2257.3,1561.7V1582.7 M2257.3,1571.8V1572.6 M2242.3,1571.8h30 M2242.3,1572.6h30 M2290.1,1561.9V1582.9 M2290.1,1572V1572.7 M2275.1,1572h30 M2275.1,1572.7h30 M2322.8,1562V1583 M2322.8,1572.1V1572.9 M2307.8,1572.1h30 M2307.8,1572.9h30" fill="none" stroke="#ff0000" stroke-width="4.3" stroke-linecap="round"/>
<path d="M685.8,1579.4V1600.4 M685.8,1588V1591.8 M670.8,1588h30 M670.8,1591.8h30 M718.6,1579.8V1600.8 M718.6,1588.4V1592.2 M703.6,1588.4h30 M703.6,1592.2h30 M751.3,1571.7V1592.7 M751.3,1580.3V1584.1 M736.3,1580.3h30 M736.3,1584.1h30 M784,1565.5V1586.5 M784,1574.1V1578 M769,1574.1h30 M769,1578h30 M816.8,1556.7V1577.7 M816.8,1565.3V1569.1 M801.8,1565.3h30 M801.8,1569.1h30 M849.5,1548.6V1569.6 M849.5,1557.2V1561 M834.5,1557.2h30 M834.5,1561h30 M882.3,1540.1V1561.1 M882.3,1548.7V1552.5 M867.3,1548.7h30 M867.3,1552.5h30 M915,1532.4V1553.4 M915,1541V1544.8 M900,1541h30 M900,1544.8h30 M947.7,1525.5V1546.5 M947.7,1534V1537.9 M932.7,1534h30 M932.7,1537.9h30 M980.5,1519.3V1540.3 M980.5,1527.9V1531.7 M965.5,1527.9h30 M965.5,1531.7h30 M1013.2,1513.9V1534.9 M1013.2,1522.5V1526.3 M998.2,1522.5h30 M998.2,1526.3h30 M1046,1506.2V1527.2 M1046,1514.8V1518.6 M1031,1514.8h30 M1031,1518.6h30 M1078.7,1487.7V1508.7 M1078.7,1492.1V1504.4 M1063.7,1492.1h30 M1063.7,1504.4h30 M1111.4,1483.1V1504.1 M1111.4,1487.4V1499.8 M1096.4,1487.4h30 M1096.4,1499.8h30 M1144.2,1471.5V1492.5 M1144.2,1475.9V1488.2 M1129.2,1475.9h30 M1129.2,1488.2h30 M1176.9,1451.5V1472.5 M1176.9,1454.3V1469.7 M1161.9,1454.3h30 M1161.9,1469.7h30 M1209.7,1419.9V1440.9 M1209.7,1422.7V1438.1 M1194.7,1422.7h30 M1194.7,1438.1h30 M1242.4,1390.6V1411.6 M1242.4,1393.4V1408.8 M1227.4,1393.4h30 M1227.4,1408.8h30 M1275.1,1339.4V1360.4 M1275.1,1346.8V1353 M1260.1,1346.8h30 M1260.1,1353h30 M1307.9,1285V1306 M1307.9,1281.7V1309.4 M1292.9,1281.7h30 M1292.9,1309.4h30 M1340.6,1177.2V1198.2 M1340.6,1174.6V1200.8 M1325.6,1174.6h30 M1325.6,1200.8h30 M1373.4,1030.8V1051.8 M1373.4,1008.9V1073.6 M1358.4,1008.9h30 M1358.4,1073.6h30 M1406.1,929.8V950.8 M1406.1,934.1V946.5 M1391.1,934.1h30 M1391.1,946.5h30 M1438.8,776.5V797.5 M1438.8,740.7V833.2 M1423.8,740.7h30 M1423.8,833.2h30 M1471.6,708.6V729.6 M1471.6,711.4V726.8 M1456.6,711.4h30 M1456.6,726.8h30 M1504.3,671.7V692.7 M1504.3,633.6V730.7 M1489.3,633.6h30 M1489.3,730.7h30 M1537.1,595.4V616.4 M1537.1,571.2V640.5 M1522.1,571.2h30 M1522.1,640.5h30 M1569.8,691.7V712.7 M1569.8,639V765.4 M1554.8,639h30 M1554.8,765.4h30 M1591.3,734.8V755.8 M1591.3,731.1V759.6 M1576.3,731.1h30 M1576.3,759.6h30 M1618.4,952.1V973.1 M1618.4,919.1V1006.2 M1603.4,919.1h30 M1603.4,1006.2h30 M1650,1211.8V1232.8 M1650,1205.4V1239.3 M1635,1205.4h30 M1635,1239.3h30 M1700.8,1445.3V1466.3 M1700.8,1449.7V1462 M1685.8,1449.7h30 M1685.8,1462h30 M1733.5,1562.5V1583.5 M1733.5,1566.8V1579.1 M1718.5,1566.8h30 M1718.5,1579.1h30 M1766.2,1567.1V1588.1 M1766.2,1576.4V1578.7 M1751.2,1576.4h30 M1751.2,1578.7h30 M1799,1566.7V1587.7 M1799,1576V1578.4 M1784,1576h30 M1784,1578.4h30 M1831.7,1566.3V1587.3 M1831.7,1575.7V1578 M1816.7,1575.7h30 M1816.7,1578h30 M1864.5,1566.3V1587.3 M1864.5,1575.7V1578 M1849.5,1575.7h30 M1849.5,1578h30 M1897.2,1566.3V1587.3 M1897.2,1575.7V1578 M1882.2,1575.7h30 M1882.2,1578h30 M1929.9,1566.3V1587.3 M1929.9,1575.7V1578 M1914.9,1575.7h30 M1914.9,1578h30 M1962.7,1566.3V1587.3 M1962.7,1575.7V1578 M1947.7,1575.7h30 M1947.7,1578h30 M1995.4,1566.3V1587.3 M1995.4,1575.7V1578 M1980.4,1575.7h30 M1980.4,1578h30 M2028.2,1566.3V1587.3 M2028.2,1575.7V1578 M2013.2,1575.7h30 M2013.2,1578h30 M2060.9,1566.3V1587.3 M2060.9,1575.7V1578 M2045.9,1575.7h30 M2045.9,1578h30 M2093.6,1566.3V1587.3 M2093.6,1575.7V1578 M2078.6,1575.7h30 M2078.6,1578h30 M2126.4,1566.7V1587.7 M2126.4,1576V1578.4 M2111.4,1576h30 M2111.4,1578.4h30 M2159.1,1567.1V1588.1 M2159.1,1576.4V1578.7 M2144.1,1576.4h30 M2144.1,1578.7h30 M2191.9,1567.5V1588.5 M2191.9,1576.8V1579.1 M2176.9,1576.8h30 M2176.9,1579.1h30 M2224.6,1567.9V1588.9 M2224.6,1577.2V1579.5 M2209.6,1577.2h30 M2209.6,1579.5h30 M2257.3,1568.2V1589.2 M2257.3,1577.6V1579.9 M2242.3,1577.6h30 M2242.3,1579.9h30 M2290.1,1569V1590 M2290.1,1578.4V1580.7 M2275.1,1578.4h30 M2275.1,1580.7h30 M2322.8,1569.4V1590.4 M2322.8,1578.7V1581.1 M2307.8,1578.7h30 M2307.8,1581.1h30" fill="none" stroke="#0000ff" stroke-width="4.3" stroke-linecap="round"/>
<path d="M685.8,1579.4V1600.4 M685.8,1588V1591.8 M670.8,1588h30 M670.8,1591.8h30 M718.6,1581V1602 M718.6,1589.5V1593.4 M703.6,1589.5h30 M703.6,1593.4h30 M751.3,1584.8V1605.8 M751.3,1593.4V1597.2 M736.3,1593.4h30 M736.3,1597.2h30 M784,1580.2V1601.2 M784,1588.8V1592.6 M769,1588.8h30 M769,1592.6h30 M816.8,1572.9V1593.9 M816.8,1581.4V1585.3 M801.8,1581.4h30 M801.8,1585.3h30 M849.5,1567.9V1588.9 M849.5,1576.4V1580.3 M834.5,1576.4h30 M834.5,1580.3h30 M882.3,1560.2V1581.2 M882.3,1568.7V1572.6 M867.3,1568.7h30 M867.3,1572.6h30 M915,1551.7V1572.7 M915,1560.2V1564.1 M900,1560.2h30 M900,1564.1h30 M947.7,1545.5V1566.5 M947.7,1554.1V1557.9 M932.7,1554.1h30 M932.7,1557.9h30 M980.5,1547.1V1568.1 M980.5,1555.6V1559.5 M965.5,1555.6h30 M965.5,1559.5h30 M1013.2,1538.6V1559.6 M1013.2,1547.1V1551 M998.2,1547.1h30 M998.2,1551h30 M1046,1524.7V1545.7 M1046,1533.3V1537.1 M1031,1533.3h30 M1031,1537.1h30 M1078.7,1515.8V1536.8 M1078.7,1522.5V1530.2 M1063.7,1522.5h30 M1063.7,1530.2h30 M1111.4,1504.7V1525.7 M1111.4,1511.3V1519 M1096.4,1511.3h30 M1096.4,1519h30 M1144.2,1493.1V1514.1 M1144.2,1499.8V1507.5 M1129.2,1499.8h30 M1129.2,1507.5h30 M1176.9,1470.8V1491.8 M1176.9,1473.6V1489 M1161.9,1473.6h30 M1161.9,1489h30 M1209.7,1455.4V1476.4 M1209.7,1458.1V1473.6 M1194.7,1458.1h30 M1194.7,1473.6h30 M1242.4,1434.5V1455.5 M1242.4,1442.7V1447.4 M1227.4,1442.7h30 M1227.4,1447.4h30 M1275.1,1401.4V1422.4 M1275.1,1407.3V1416.5 M1260.1,1407.3h30 M1260.1,1416.5h30 M1307.9,1317.4V1338.4 M1307.9,1323.3V1332.5 M1292.9,1323.3h30 M1292.9,1332.5h30 M1340.6,1195.7V1216.7 M1340.6,1202.3V1210 M1325.6,1202.3h30 M1325.6,1210h30 M1373.4,1080.1V1101.1 M1373.4,1084.4V1096.7 M1358.4,1084.4h30 M1358.4,1096.7h30 M1406.1,967.6V988.6 M1406.1,975.7V980.4 M1391.1,975.7h30 M1391.1,980.4h30 M1438.8,855.8V876.8 M1438.8,864V868.6 M1423.8,864h30 M1423.8,868.6h30 M1471.6,800.3V821.3 M1471.6,757.7V864 M1456.6,757.7h30 M1456.6,864h30 M1504.3,687.8V708.8 M1504.3,665.6V731.1 M1489.3,665.6h30 M1489.3,731.1h30 M1537.1,663.9V684.9 M1537.1,613.6V735.3 M1522.1,613.6h30 M1522.1,735.3h30 M1569.8,754.9V775.9 M1569.8,752.3V778.5 M1554.8,752.3h30 M1554.8,778.5h30 M1602.5,879.7V900.7 M1602.5,887.9V892.5 M1587.5,887.9h30 M1587.5,892.5h30 M1635.3,1053.1V1074.1 M1635.3,1061.3V1065.9 M1620.3,1061.3h30 M1620.3,1065.9h30 M1668,1260.4V1281.4 M1668,1249.3V1292.5 M1653,1249.3h30 M1653,1292.5h30 M1700.8,1506.2V1527.2 M1700.8,1514.4V1519 M1685.8,1514.4h30 M1685.8,1519h30 M1733.5,1582.5V1603.5 M1733.5,1589.1V1596.9 M1718.5,1589.1h30 M1718.5,1596.9h30 M1766.2,1590.2V1611.2 M1766.2,1596.9V1604.6 M1751.2,1596.9h30 M1751.2,1604.6h30 M1799,1590.2V1611.2 M1799,1596.9V1604.6 M1784,1596.9h30 M1784,1604.6h30 M1831.7,1590.2V1611.2 M1831.7,1596.9V1604.6 M1816.7,1596.9h30 M1816.7,1604.6h30 M1864.5,1590.2V1611.2 M1864.5,1596.9V1604.6 M1849.5,1596.9h30 M1849.5,1604.6h30 M1897.2,1590.2V1611.2 M1897.2,1596.9V1604.6 M1882.2,1596.9h30 M1882.2,1604.6h30 M1929.9,1590.2V1611.2 M1929.9,1596.9V1604.6 M1914.9,1596.9h30 M1914.9,1604.6h30 M1962.7,1590.2V1611.2 M1962.7,1596.9V1604.6 M1947.7,1596.9h30 M1947.7,1604.6h30 M1995.4,1590.2V1611.2 M1995.4,1596.9V1604.6 M1980.4,1596.9h30 M1980.4,1604.6h30 M2028.2,1590.2V1611.2 M2028.2,1596.9V1604.6 M2013.2,1596.9h30 M2013.2,1604.6h30 M2060.9,1590.2V1611.2 M2060.9,1596.9V1604.6 M2045.9,1596.9h30 M2045.9,1604.6h30 M2093.6,1590.2V1611.2 M2093.6,1596.9V1604.6 M2078.6,1596.9h30 M2078.6,1604.6h30 M2126.4,1590.2V1611.2 M2126.4,1596.9V1604.6 M2111.4,1596.9h30 M2111.4,1604.6h30 M2159.1,1590.2V1611.2 M2159.1,1596.9V1604.6 M2144.1,1596.9h30 M2144.1,1604.6h30 M2191.9,1590.2V1611.2 M2191.9,1596.9V1604.6 M2176.9,1596.9h30 M2176.9,1604.6h30 M2224.6,1590.2V1611.2 M2224.6,1596.9V1604.6 M2209.6,1596.9h30 M2209.6,1604.6h30 M2257.3,1590.2V1611.2 M2257.3,1596.9V1604.6 M2242.3,1596.9h30 M2242.3,1604.6h30 M2290.1,1590.2V1611.2 M2290.1,1596.9V1604.6 M2275.1,1596.9h30 M2275.1,1604.6h30 M2322.8,1590.2V1611.2 M2322.8,1596.9V1604.6 M2307.8,1596.9h30 M2307.8,1604.6h30" fill="none" stroke="#00ff00" stroke-width="4.3" stroke-linecap="round"/>
<path d="M653.1,1572.9V1593.9 M653.1,1581.4V1585.3 M638.1,1581.4h30 M638.1,1585.3h30 M685.8,1564V1585 M685.8,1572.6V1576.4 M670.8,1572.6h30 M670.8,1576.4h30 M718.6,1557.1V1578.1 M718.6,1565.6V1569.5 M703.6,1565.6h30 M703.6,1569.5h30 M751.3,1547.8V1568.8 M751.3,1556.4V1560.2 M736.3,1556.4h30 M736.3,1560.2h30 M784,1539V1560 M784,1547.5V1551.4 M769,1547.5h30 M769,1551.4h30 M816.8,1530.1V1551.1 M816.8,1538.7V1542.5 M801.8,1538.7h30 M801.8,1542.5h30 M849.5,1521.6V1542.6 M849.5,1530.2V1534 M834.5,1530.2h30 M834.5,1534h30 M882.3,1514.7V1535.7 M882.3,1523.3V1527.1 M867.3,1523.3h30 M867.3,1527.1h30 M915,1507V1528 M915,1515.6V1519.4 M900,1515.6h30 M900,1519.4h30 M947.7,1497.7V1518.7 M947.7,1503.6V1512.9 M932.7,1503.6h30 M932.7,1512.9h30 M980.5,1500V1521 M980.5,1502.8V1518.3 M965.5,1502.8h30 M965.5,1518.3h30 M1013.2,1497.7V1518.7 M1013.2,1500.5V1515.9 M998.2,1500.5h30 M998.2,1515.9h30 M1046,1499.3V1520.3 M1046,1502.1V1517.5 M1031,1502.1h30 M1031,1517.5h30 M1078.7,1499.3V1520.3 M1078.7,1502.1V1517.5 M1063.7,1502.1h30 M1063.7,1517.5h30 M1111.4,1504.7V1525.7 M1111.4,1507.5V1522.9 M1096.4,1507.5h30 M1096.4,1522.9h30 M1144.2,1489.3V1510.3 M1144.2,1492.1V1507.5 M1129.2,1492.1h30 M1129.2,1507.5h30 M1176.9,1477.3V1498.3 M1176.9,1480.1V1495.5 M1161.9,1480.1h30 M1161.9,1495.5h30 M1209.7,1459.2V1480.2 M1209.7,1465.9V1473.6 M1194.7,1465.9h30 M1194.7,1473.6h30 M1242.4,1417.6V1438.6 M1242.4,1425.8V1430.4 M1227.4,1425.8h30 M1227.4,1430.4h30 M1275.1,1381.4V1402.4 M1275.1,1383.4V1400.3 M1260.1,1383.4h30 M1260.1,1400.3h30 M1307.9,1300.5V1321.5 M1307.9,1307.1V1314.8 M1292.9,1307.1h30 M1292.9,1314.8h30 M1340.6,1171.8V1192.8 M1340.6,1178.4V1186.1 M1325.6,1178.4h30 M1325.6,1186.1h30 M1373.4,985.3V1006.3 M1373.4,982.3V1009.3 M1358.4,982.3h30 M1358.4,1009.3h30 M1406.1,812.7V833.7 M1406.1,817.8V828.6 M1391.1,817.8h30 M1391.1,828.6h30 M1438.8,616.2V637.2 M1438.8,594.3V659 M1423.8,594.3h30 M1423.8,659h30 M1471.6,412V433 M1471.6,346.9V498 M1456.6,346.9h30 M1456.6,498h30 M1504.3,364.2V385.2 M1504.3,335V414.4 M1489.3,335h30 M1489.3,414.4h30 M1537.1,262.5V283.5 M1537.1,263.7V282.2 M1522.1,263.7h30 M1522.1,282.2h30 M1569.8,251.7V272.7 M1569.8,245.2V279.1 M1554.8,245.2h30 M1554.8,279.1h30 M1602.5,428.1V449.1 M1602.5,375.8V501.4 M1587.5,375.8h30 M1587.5,501.4h30 M1635.3,544.1V565.1 M1635.3,503.8V605.5 M1620.3,503.8h30 M1620.3,605.5h30 M1668,852V873 M1668,857.1V867.9 M1653,857.1h30 M1653,867.9h30 M1700.8,1113.2V1134.2 M1700.8,1108.3V1139.1 M1685.8,1108.3h30 M1685.8,1139.1h30 M1733.5,1530.9V1551.9 M1733.5,1539.1V1543.7 M1718.5,1539.1h30 M1718.5,1543.7h30 M1766.2,1561.7V1582.7 M1766.2,1569.9V1574.5 M1751.2,1569.9h30 M1751.2,1574.5h30 M1799,1564V1585 M1799,1573V1576 M1784,1573h30 M1784,1576h30 M1831.7,1566.3V1587.3 M1831.7,1575.3V1578.4 M1816.7,1575.3h30 M1816.7,1578.4h30 M1864.5,1567.5V1588.5 M1864.5,1576.4V1579.5 M1849.5,1576.4h30 M1849.5,1579.5h30 M1897.2,1568.2V1589.2 M1897.2,1577.2V1580.3 M1882.2,1577.2h30 M1882.2,1580.3h30 M1929.9,1568.6V1589.6 M1929.9,1577.5V1580.6 M1914.9,1577.5h30 M1914.9,1580.6h30 M1962.7,1568.9V1589.9 M1962.7,1577.8V1580.9 M1947.7,1577.8h30 M1947.7,1580.9h30 M1995.4,1569.2V1590.2 M1995.4,1578.1V1581.2 M1980.4,1578.1h30 M1980.4,1581.2h30 M2028.2,1569.5V1590.5 M2028.2,1578.5V1581.5 M2013.2,1578.5h30 M2013.2,1581.5h30 M2060.9,1569.8V1590.8 M2060.9,1578.8V1581.9 M2045.9,1578.8h30 M2045.9,1581.9h30 M2093.6,1570.1V1591.1 M2093.6,1579.1V1582.2 M2078.6,1579.1h30 M2078.6,1582.2h30 M2126.4,1570.5V1591.5 M2126.4,1579.4V1582.5 M2111.4,1579.4h30 M2111.4,1582.5h30 M2159.1,1570.8V1591.8 M2159.1,1579.7V1582.8 M2144.1,1579.7h30 M2144.1,1582.8h30 M2191.9,1571.1V1592.1 M2191.9,1580V1583.1 M2176.9,1580h30 M2176.9,1583.1h30 M2224.6,1571.4V1592.4 M2224.6,1580.4V1583.4 M2209.6,1580.4h30 M2209.6,1583.4h30 M2257.3,1571.7V1592.7 M2257.3,1580.7V1583.8 M2242.3,1580.7h30 M2242.3,1583.8h30" fill="none" stroke="#ff00ff" stroke-width="4.3" stroke-linecap="round"/>
<path d="M673.6,1581.7V1602.7 M673.6,1590.3V1594.2 M658.6,1590.3h30 M658.6,1594.2h30 M706.3,1579V1600 M706.3,1587.6V1591.5 M691.3,1587.6h30 M691.3,1591.5h30 M739,1578.6V1599.6 M739,1587.2V1591.1 M724,1587.2h30 M724,1591.1h30 M771.7,1572.5V1593.5 M771.7,1581.1V1584.9 M756.7,1581.1h30 M756.7,1584.9h30 M804.4,1565.2V1586.2 M804.4,1573.7V1577.6 M789.4,1573.7h30 M789.4,1577.6h30 M837.1,1560.9V1581.9 M837.1,1569.5V1573.3 M822.1,1569.5h30 M822.1,1573.3h30 M869.8,1553.6V1574.6 M869.8,1562.2V1566 M854.8,1562.2h30 M854.8,1566h30 M902.5,1548.6V1569.6 M902.5,1557.2V1561 M887.5,1557.2h30 M887.5,1561h30 M935.2,1544.7V1565.7 M935.2,1553.3V1557.2 M920.2,1553.3h30 M920.2,1557.2h30 M967.9,1534V1555 M967.9,1542.5V1546.4 M952.9,1542.5h30 M952.9,1546.4h30 M1000.6,1527V1548 M1000.6,1535.6V1539.4 M985.6,1535.6h30 M985.6,1539.4h30 M1033.3,1521.2V1542.2 M1033.3,1529.8V1533.7 M1018.3,1529.8h30 M1018.3,1533.7h30 M1066,1510.1V1531.1 M1066,1514.4V1526.7 M1051,1514.4h30 M1051,1526.7h30 M1098.7,1499.3V1520.3 M1098.7,1503.6V1515.9 M1083.7,1503.6h30 M1083.7,1515.9h30 M1131.4,1496.2V1517.2 M1131.4,1500.5V1512.9 M1116.4,1500.5h30 M1116.4,1512.9h30 M1164.1,1480.8V1501.8 M1164.1,1485.1V1497.4 M1149.1,1485.1h30 M1149.1,1497.4h30 M1196.8,1437.6V1458.6 M1196.8,1446.2V1450.1 M1181.8,1446.2h30 M1181.8,1450.1h30 M1229.5,1381.4V1402.4 M1229.5,1388.8V1395 M1214.5,1388.8h30 M1214.5,1395h30 M1262.2,1315.9V1336.9 M1262.2,1324.1V1328.7 M1247.2,1324.1h30 M1247.2,1328.7h30 M1294.9,1249.6V1270.6 M1294.9,1256.2V1264 M1279.9,1256.2h30 M1279.9,1264h30 M1327.6,1176.4V1197.4 M1327.6,1176.9V1196.9 M1312.6,1176.9h30 M1312.6,1196.9h30 M1360.3,1105.5V1126.5 M1360.3,1098.7V1133.3 M1345.3,1098.7h30 M1345.3,1133.3h30 M1393,1016.9V1037.9 M1393,1018.9V1035.9 M1378,1018.9h30 M1378,1035.9h30 M1425.7,962.2V983.2 M1425.7,968.8V976.5 M1410.7,968.8h30 M1410.7,976.5h30 M1458.4,897.4V918.4 M1458.4,863.2V952.6 M1443.4,863.2h30 M1443.4,952.6h30 M1491.1,949.1V970.1 M1491.1,924.9V994.2 M1476.1,924.9h30 M1476.1,994.2h30 M1523.8,951.4V972.4 M1523.8,958V965.7 M1508.8,958h30 M1508.8,965.7h30 M1556.5,1054.6V1075.6 M1556.5,1028.9V1101.4 M1541.5,1028.9h30 M1541.5,1101.4h30 M1589.2,1110.9V1131.9 M1589.2,1109.8V1133 M1574.2,1109.8h30 M1574.2,1133h30 M1621.9,1265.8V1286.8 M1621.9,1263.6V1289 M1606.9,1263.6h30 M1606.9,1289h30 M1654.6,1451.5V1472.5 M1654.6,1460.5V1463.5 M1639.6,1460.5h30 M1639.6,1463.5h30 M1687.3,1545.5V1566.5 M1687.3,1554.5V1557.6 M1672.3,1554.5h30 M1672.3,1557.6h30 M1720,1570.9V1591.9 M1720,1578.4V1584.5 M1705,1578.4h30 M1705,1584.5h30 M1752.7,1575.9V1596.9 M1752.7,1583.4V1589.5 M1737.7,1583.4h30 M1737.7,1589.5h30 M1785.4,1576V1597 M1785.4,1583.5V1589.6 M1770.4,1583.5h30 M1770.4,1589.6h30 M1818.1,1576.1V1597.1 M1818.1,1583.5V1589.7 M1803.1,1583.5h30 M1803.1,1589.7h30 M1850.8,1576.2V1597.2 M1850.8,1583.6V1589.8 M1835.8,1583.6h30 M1835.8,1589.8h30 M1883.5,1576.3V1597.3 M1883.5,1583.7V1589.9 M1868.5,1583.7h30 M1868.5,1589.9h30 M1916.2,1576.4V1597.4 M1916.2,1583.8V1590 M1901.2,1583.8h30 M1901.2,1590h30 M1948.9,1576.5V1597.5 M1948.9,1583.9V1590.1 M1933.9,1583.9h30 M1933.9,1590.1h30 M1981.6,1576.6V1597.6 M1981.6,1584V1590.2 M1966.6,1584h30 M1966.6,1590.2h30 M2014.3,1576.7V1597.7 M2014.3,1584.1V1590.3 M1999.3,1584.1h30 M1999.3,1590.3h30 M2047,1576.8V1597.8 M2047,1584.2V1590.3 M2032,1584.2h30 M2032,1590.3h30 M2079.7,1576.9V1597.9 M2079.7,1584.3V1590.4 M2064.7,1584.3h30 M2064.7,1590.4h30 M2112.4,1576.9V1597.9 M2112.4,1584.4V1590.5 M2097.4,1584.4h30 M2097.4,1590.5h30 M2145.1,1577V1598 M2145.1,1584.5V1590.6 M2130.1,1584.5h30 M2130.1,1590.6h30 M2177.8,1577.1V1598.1 M2177.8,1584.5V1590.7 M2162.8,1584.5h30 M2162.8,1590.7h30 M2210.5,1577.2V1598.2 M2210.5,1584.6V1590.8 M2195.5,1584.6h30 M2195.5,1590.8h30 M2243.2,1577.3V1598.3 M2243.2,1584.7V1590.9 M2228.2,1584.7h30 M2228.2,1590.9h30 M2275.9,1577.4V1598.4 M2275.9,1584.8V1591 M2260.9,1584.8h30 M2260.9,1591h30 M2308.6,1577.5V1598.5 M2308.6,1584.9V1591.1 M2293.6,1584.9h30 M2293.6,1591.1h30" fill="none" stroke="#ff8000" stroke-width="4.3" stroke-linecap="round"/>
</g>
<rect x="259.6" y="51.8" width="2068.2" height="1541.2" fill="none" stroke="#000" stroke-width="4.2"/>
<g class="num">
<text x="227" y="1618" text-anchor="end">0</text>
<text x="227" y="1463.9" text-anchor="end">20</text>
<text x="227" y="1309.8" text-anchor="end">40</text>
<text x="227" y="1155.6" text-anchor="end">60</text>
<text x="227" y="1001.5" text-anchor="end">80</text>
<text x="227" y="847.4" text-anchor="end">100</text>
<text x="227" y="693.3" text-anchor="end">120</text>
<text x="227" y="539.2" text-anchor="end">140</text>
<text x="227" y="385" text-anchor="end">160</text>
<text x="227" y="230.9" text-anchor="end">180</text>
<text x="227" y="76.8" text-anchor="end">200</text>
<text x="259.6" y="1686" text-anchor="middle">0.1</text>
<text x="673.2" y="1686" text-anchor="middle">1</text>
<text x="1086.9" y="1686" text-anchor="middle">10</text>
<text x="1500.5" y="1686" text-anchor="middle">100</text>
<text x="1914.2" y="1686" text-anchor="middle">1,000</text>
<text x="2327.8" y="1686" text-anchor="middle">10,000</text>
</g>
<g class="ttl">
<text x="1297" y="1817" text-anchor="middle" >Time, ms</text>
<text transform="translate(83,868.5) rotate(-90)" text-anchor="middle" font-size="79">Signal amplitude</text>
</g>
<g class="leg">
<path d="M1743,139.9H1919" stroke="#ff0000" stroke-width="4.3" stroke-linecap="round"/>
<polygon points="1830.7,125.9 1842.7,147.9 1818.7,147.9" fill="#ff0000"/>
<text x="1940.8" y="167.9">2 PV oil</text>
<path d="M1743,235.3H1919" stroke="#0000ff" stroke-width="4.3" stroke-linecap="round"/>
<circle cx="1830.7" cy="235.3" r="10.5" fill="#0000ff"/>
<text x="1934" y="263.3">7 PV oil</text>
<path d="M1743,331.6H1919" stroke="#00ff00" stroke-width="4.3" stroke-linecap="round"/>
<polygon points="1830.7,318.6 1843.7,331.6 1830.7,344.6 1817.7,331.6" fill="#00ff00"/>
<text x="1934.4" y="359.6">10 PV oil</text>
<path d="M1743,428.2H1919" stroke="#ff8000" stroke-width="4.3" stroke-linecap="round"/>
<polygon points="1830.7,417.9 1841.2,422.2 1841.2,434.2 1830.7,438.5 1820.2,434.2 1820.2,422.2" fill="#ff8000"/>
<text x="1934" y="456.2">50 PV oil</text>
<path d="M1743,524.2H1919" stroke="#ff00ff" stroke-width="4.3" stroke-linecap="round"/>
<rect x="1821" y="514.5" width="19.5" height="19.5" fill="#ff00ff"/>
<text x="1932.8" y="552.2">After gelation</text>
</g>
</svg>
</body></html>
